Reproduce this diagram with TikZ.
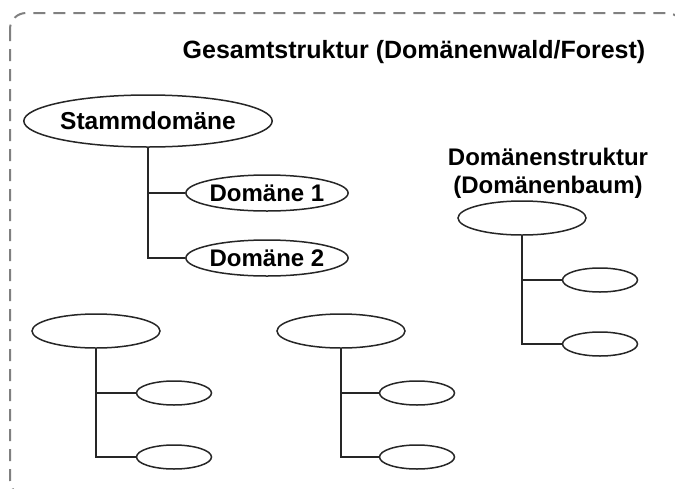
\documentclass[tikz,border=0pt]{standalone}
\usepackage{fontspec}
\setmainfont{Liberation Sans}
\usetikzlibrary{shapes,trees}

\begin{document}
\begin{tikzpicture}[x=1pt,y=-1pt,font=\fontsize{24}{28}\selectfont\bfseries]
\tikzstyle{dom}=[ellipse,draw=black!85,line width=1.5pt,inner sep=0pt,fill=white]
\tikzstyle{root}=[dom,minimum width=229,minimum height=52]
\tikzstyle{sub}=[dom,minimum width=160,minimum height=36]
\tikzstyle{emptyroot}=[dom,minimum width=128,minimum height=34]
\tikzstyle{leaf}=[dom,minimum width=75,minimum height=24]
\tikzstyle{edge from parent}=[draw,line width=1.5pt,black!85]
\tikzstyle{branch}=[edge from parent path={(\tikzparentnode.south) |- (\tikzchildnode.west)}]
\useasboundingbox (0,0) rectangle (675,488);
\draw[black!50,line width=2pt,dash pattern=on 12pt off 8pt,rounded corners=16pt]
  (10,13) rectangle (683,496);
\node[anchor=base,font=\fontsize{25}{28}\selectfont\bfseries] (gesamt) at (414,58) {Gesamtstruktur (Domänenwald/Forest)};
\node[align=center] (baum) at (548,173) {Domänenstruktur\\(Domänenbaum)};
\node[root,font=\fontsize{24.5}{28}\selectfont\bfseries] (stamm) at (148,121) {Stammdomäne}
  [branch,grow via three points={one child at (119,72) and two children at (119,72) and (119,137)}]
  child {node[sub] (dom1) {Domäne 1}}
  child {node[sub] (dom2) {Domäne 2}};
\node[emptyroot] (baumroot) at (522,218) {}
  [branch,grow via three points={one child at (78,62) and two children at (78,62) and (78,126)}]
  child {node[leaf] (baum1) {}}
  child {node[leaf] (baum2) {}};
\node[emptyroot] (links) at (96,331) {}
  [branch,grow via three points={one child at (78,62) and two children at (78,62) and (78,126)}]
  child {node[leaf] (links1) {}}
  child {node[leaf] (links2) {}};
\node[emptyroot] (mitte) at (341,331) {}
  [branch,grow via three points={one child at (76,62) and two children at (76,62) and (76,126)}]
  child {node[leaf] (mitte1) {}}
  child {node[leaf] (mitte2) {}};
\end{tikzpicture}
\end{document}
